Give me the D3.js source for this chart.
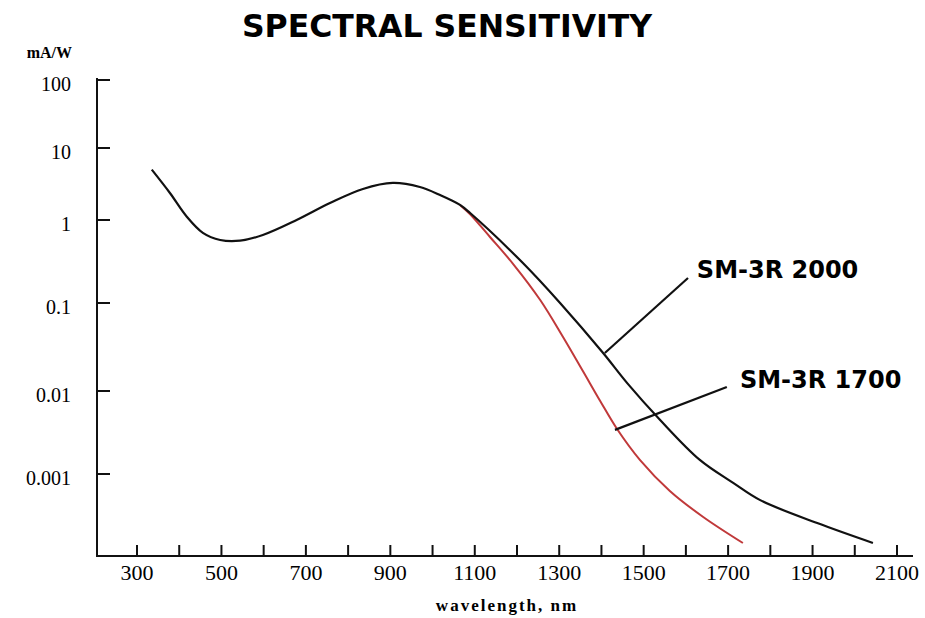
<!DOCTYPE html>
<html>
<head>
<meta charset="utf-8">
<script src="https://cdn.jsdelivr.net/npm/d3@7.9.0/dist/d3.min.js"></script>
<style>
  body { margin: 0; background: #fff; }
  svg { display: block; }
</style>
</head>
<body>
<svg id="chart" width="925" height="618"></svg>
<script>
// wavelength (nm) and sensitivity (mA/W)
const wl2000 = [335, 378, 418, 456, 497, 544, 598, 678, 757, 835, 906, 970, 1018, 1065, 1089,
  1214, 1302, 1404, 1461, 1539, 1633, 1712, 1776, 1911, 2043];
const sens2000 = [5.0, 2.37, 1.11, 0.70, 0.574, 0.563, 0.66, 1.0, 1.72, 2.70, 3.27, 2.87, 2.22, 1.62, 1.25,
  0.303, 0.1, 0.027, 0.0123, 0.00448, 0.00148, 0.00078, 0.00048, 0.000252, 0.000144];

const wl1700 = [1065, 1089, 1136, 1191, 1255, 1309, 1356, 1397, 1437, 1491, 1562, 1641, 1735];
const sens1700 = [1.62, 1.2, 0.624, 0.295, 0.1087, 0.0411, 0.01687, 0.00758, 0.00348, 0.00148, 0.000621, 0.000299, 0.000144];

const xTicks = d3.range(300, 2101, 100);
const xLabels = [300, 500, 700, 900, 1100, 1300, 1500, 1700, 1900, 2100];
const yTicks = [100, 10, 1, 0.1, 0.01, 0.001];
const yLabels = ['100', '10', '1', '0.1', '0.01', '0.001'];

// labels and where their leader lines point (nm, mA/W)
const notes = [
  { text: 'SM-3R 2000', at: [1626, 0.2], from: [1605, 0.2], to: [1408, 0.027] },
  { text: 'SM-3R 1700', at: [1728, 0.0108], from: [1697, 0.0111], to: [1432, 0.0034] }
];

const svg = d3.select('#chart');

const x = d3.scaleLinear().domain([300, 2100]).range([137, 897]);
// the printed decades are not evenly spaced, so the log scale is piecewise
const y = d3.scaleLog()
  .domain([100, 10, 1, 0.1, 0.01, 0.001, 0.0001])
  .range([80, 148, 220, 303, 391, 474, 556]);

const serif = '"Liberation Serif", "Times New Roman", serif';
const sans = '"DejaVu Sans", Verdana, sans-serif';

// title
svg.append('text')
  .attr('x', 447).attr('y', 37)
  .attr('text-anchor', 'middle')
  .style('font-family', sans).style('font-weight', 'bold').style('font-size', '31.5px')
  .text('SPECTRAL SENSITIVITY');

// axes lines
svg.append('line').attr('x1', 97).attr('x2', 97).attr('y1', 78).attr('y2', 557)
  .attr('stroke', '#111').attr('stroke-width', 2);
svg.append('line').attr('x1', 96).attr('x2', 913).attr('y1', 556).attr('y2', 556)
  .attr('stroke', '#111').attr('stroke-width', 2);

// y ticks point inward
svg.selectAll('.ytick').data(yTicks).join('line')
  .attr('class', 'ytick')
  .attr('x1', 97).attr('x2', 110)
  .attr('y1', d => y(d)).attr('y2', d => y(d))
  .attr('stroke', '#111').attr('stroke-width', 2);

svg.selectAll('.ylab').data(yTicks).join('text')
  .attr('class', 'ylab')
  .attr('x', 71).attr('y', d => y(d) + 11)
  .attr('text-anchor', 'end')
  .style('font-family', serif).style('font-size', '20px')
  .text((d, i) => yLabels[i]);

svg.append('text')
  .attr('x', 72).attr('y', 58)
  .attr('text-anchor', 'end')
  .style('font-family', serif).style('font-weight', 'bold').style('font-size', '16px')
  .text('mA/W');

// x ticks point upward
svg.selectAll('.xtick').data(xTicks).join('line')
  .attr('class', 'xtick')
  .attr('x1', d => x(d)).attr('x2', d => x(d))
  .attr('y1', 556).attr('y2', 545)
  .attr('stroke', '#111').attr('stroke-width', 2);

svg.selectAll('.xlab').data(xLabels).join('text')
  .attr('class', 'xlab')
  .attr('x', d => x(d)).attr('y', 580)
  .attr('text-anchor', 'middle')
  .style('font-family', serif).style('font-size', '22px')
  .text(d => d);

svg.append('text')
  .attr('x', 507).attr('y', 611)
  .attr('text-anchor', 'middle')
  .style('font-family', serif).style('font-weight', 'bold').style('font-size', '17px')
  .style('letter-spacing', '2px')
  .text('wavelength, nm');

// curves
const line = d3.line()
  .x(d => x(d[0]))
  .y(d => y(d[1]))
  .curve(d3.curveCatmullRom);

svg.append('path')
  .datum(d3.zip(wl1700, sens1700))
  .attr('d', line)
  .attr('fill', 'none')
  .attr('stroke', '#c0393a')
  .attr('stroke-width', 2);

svg.append('path')
  .datum(d3.zip(wl2000, sens2000))
  .attr('d', line)
  .attr('fill', 'none')
  .attr('stroke', '#111')
  .attr('stroke-width', 2.2);

// annotations
notes.forEach(n => {
  svg.append('line')
    .attr('x1', x(n.from[0])).attr('y1', y(n.from[1]))
    .attr('x2', x(n.to[0])).attr('y2', y(n.to[1]))
    .attr('stroke', '#111').attr('stroke-width', 2.2);
  svg.append('text')
    .attr('x', x(n.at[0])).attr('y', y(n.at[1]))
    .style('font-family', sans).style('font-weight', 'bold').style('font-size', '24px')
    .text(n.text);
});
</script>
</body>
</html>
